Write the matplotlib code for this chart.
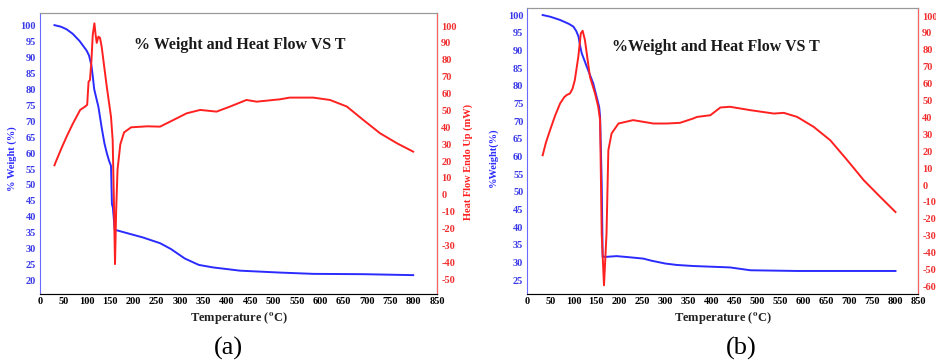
import numpy as np
import matplotlib.pyplot as plt

plt.rcParams['font.family'] = ['Liberation Serif', 'DejaVu Serif']
plt.rcParams['font.weight'] = 'bold'
plt.rcParams['mathtext.fontset'] = 'stix'
plt.rcParams['axes.unicode_minus'] = False

# (a) TGA / DSC
t_wa = [31, 45, 57, 70, 85, 100, 105, 110, 113, 116, 120, 125, 132, 138, 143, 148, 152, 154,
        156, 160, 200, 220, 257, 280, 310, 340, 371, 400, 428, 514, 585, 692, 799]
w_a = [100, 99.5, 98.7, 97.3, 95, 92, 90.5, 87.5, 84, 80, 77.5, 74.5, 68, 63, 60, 57.5, 56, 44,
       43, 36, 34.4, 33.6, 31.8, 30, 27, 25.0, 24.2, 23.7, 23.2, 22.6, 22.2, 22.1, 21.8]
t_ha = [31, 33, 45, 57, 70, 86, 95, 101, 104, 107, 110, 113, 116.5, 119, 121.5, 125, 128.5, 132,
        143, 152, 155.6, 158, 160.6, 163, 166, 172, 180, 195, 230, 257, 286, 314, 343, 378, 407,
        442, 464, 514, 535, 585, 621, 657, 692, 728, 764, 799]
h_a = [17.5, 19, 27, 34.5, 42, 50.3, 52, 53.3, 67, 68, 79, 95, 101.6, 95, 90, 93.7, 93, 87.8,
       64, 46.3, 32.5, 0, -41, -10, 15, 30, 37, 40, 40.6, 40.4, 44.4, 48.3, 50.3, 49.3, 52.3,
       56.2, 55.2, 56.6, 57.6, 57.6, 56.2, 52.3, 44.4, 36.5, 30.6, 25.6]

# (b) TGA / DSC
t_wb = [33, 50, 71, 90, 100, 106, 111, 115, 118, 129, 143, 156, 158, 161.5, 163.6, 172, 194,
        220, 252, 270, 300, 325, 361, 441, 485, 587, 695, 801]
w_b = [100, 99.5, 98.6, 97.5, 96.7, 95.5, 93.9, 91, 89.2, 85.4, 80.7, 74, 71.2, 52.4, 31.6,
       31.6, 31.8, 31.5, 31.1, 30.5, 29.7, 29.3, 29.0, 28.6, 27.8, 27.6, 27.6, 27.6]
t_hb = [33, 40, 49, 60, 71, 80, 85, 92.5, 98, 103, 110.6, 116, 120, 125, 136, 147, 154, 158,
        161.5, 166.5, 172, 176, 183, 198, 230, 274, 303, 332, 361, 369, 398, 420, 441, 485, 536,
        558, 587, 623, 659, 696, 732, 768, 801]
h_b = [17.6, 25, 32.4, 41, 48.3, 52, 53.2, 54.2, 57, 62.1, 75.9, 89.7, 91.3, 85.8, 64, 54.2,
       46.3, 38.4, -28.8, -59.4, -28.8, 20.6, 30.5, 36.4, 38.4, 36.4, 36.4, 36.8, 39.4, 40.3,
       41.3, 45.9, 46.3, 44.3, 42.3, 42.7, 40.3, 34.4, 26.5, 14.7, 2.8, -7.1, -16]

x_ticks = np.arange(0, 851, 50)

blue = '#2b2bff'
red = '#ff2020'

fig = plt.figure(figsize=(9.37, 3.6), dpi=100)


def panel(rect, tw, w, th, h, wlim, wticks, hlim, hticks, title, wlabel, title_xy, wlab_x,
          hlabel=True):
    ax = fig.add_axes(rect)
    ax.plot(tw, w, color=blue, lw=1.4)
    ax.set_xlim(0, 850)
    ax.set_ylim(*wlim)
    ax.set_xticks(x_ticks)
    ax.set_yticks(wticks)
    ax.tick_params(length=0, labelsize=7.5, pad=2)
    ax.tick_params(axis='y', colors='#3a3ae8', pad=3)
    for lab in ax.get_xticklabels() + ax.get_yticklabels():
        lab.set_fontweight('bold')
    ax.spines['left'].set_color('#6a6aff')
    ax.spines['top'].set_color('#999999')
    ax.spines['bottom'].set_color('#888888')
    ax.set_ylabel(wlabel, color=blue, fontsize=7.5, fontweight='bold')
    ax.yaxis.set_label_coords(wlab_x, 0.48)
    ax.set_xlabel('Temperature ($^{\\mathbf{o}}$C)', fontsize=9, fontweight='bold',
                  color='#222222', labelpad=3)

    ax2 = ax.twinx()
    ax2.plot(th, h, color=red, lw=1.4)
    ax2.set_ylim(*hlim)
    ax2.set_yticks(hticks)
    ax2.tick_params(length=0, labelsize=7.5, colors='#f03030', pad=3)
    for lab in ax2.get_yticklabels():
        lab.set_fontweight('bold')
    ax2.spines['right'].set_color('#ff6060')
    ax2.spines['left'].set_visible(False)
    ax2.spines['top'].set_color('#999999')
    if hlabel:
        ax2.set_ylabel('Heat Flow Endo Up (mW)', color=red, fontsize=7.5, fontweight='bold')
        ax2.yaxis.set_label_coords(1.066, 0.47)
    fig.text(title_xy[0], title_xy[1], title, ha='center', va='center',
             fontsize=11.5, fontweight='bold', color='#1a1a1a')
    return ax


panel([40 / 937, 1 - 294 / 360, 397 / 937, 281 / 360], t_wa, w_a, t_ha, h_a,
      (15.9, 103.8), np.arange(20, 101, 5), (-58.7, 107.7), np.arange(-50, 101, 10),
      '% Weight and Heat Flow VS T', '% Weight (%)', (240 / 937, 1 - 45 / 360), -0.058)

panel([527.5 / 937, 1 - 294.3 / 360, 390.5 / 937, 286 / 360], t_wb, w_b, t_hb, h_b,
      (21.0, 101.9), np.arange(25, 101, 5), (-64.7, 104.6), np.arange(-60, 101, 10),
      '%Weight and Heat Flow VS T', '%Weight(%)', (716 / 937, 1 - 47 / 360), -0.076,
      hlabel=False)

fig.text(228 / 937, 1 - 348 / 360, '(a)', ha='center', va='center', fontsize=19,
         fontweight='normal')
fig.text(741 / 937, 1 - 348 / 360, '(b)', ha='center', va='center', fontsize=19,
         fontweight='normal')

fig.savefig('out.png', dpi=100)
